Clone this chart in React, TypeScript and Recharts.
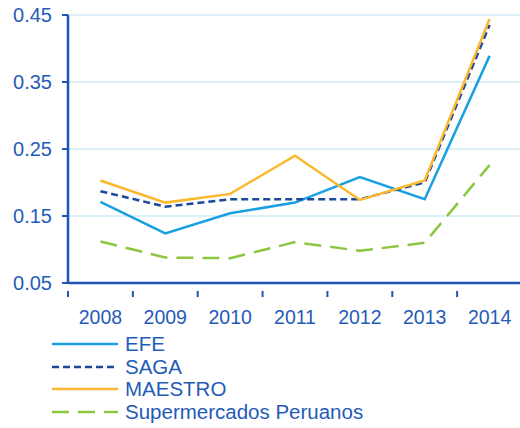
import React from "react";
import { CartesianGrid, Legend, Line, LineChart, XAxis, YAxis } from "recharts";

const years = ["2008", "2009", "2010", "2011", "2012", "2013", "2014"];
const efe = [0.171, 0.124, 0.154, 0.17, 0.208, 0.175, 0.389];
const saga = [0.187, 0.164, 0.175, 0.175, 0.175, 0.2, 0.435];
const maestro = [0.203, 0.17, 0.183, 0.24, 0.174, 0.203, 0.444];
const supermercados = [0.112, 0.088, 0.087, 0.111, 0.098, 0.11, 0.226];
const yTicks = [0.05, 0.15, 0.25, 0.35, 0.45];

const TEXT = "#1f5cb8";
const AXIS = "#1a55b0";
const GRID = "#d2ebf8";

const series = [
  { key: "efe", name: "EFE", color: "#1aa0e2", dash: undefined as string | undefined },
  { key: "saga", name: "SAGA", color: "#1b4a9c", dash: "7 4" },
  { key: "maestro", name: "MAESTRO", color: "#fcb72d", dash: undefined },
  { key: "sp", name: "Supermercados Peruanos", color: "#8cc63f", dash: "17 9" }
];

// x sits in the middle of each year's band so ticks can fall on band edges
const data = years.map((year, i) => ({
  x: i + 0.5,
  year,
  efe: efe[i],
  saga: saga[i],
  maestro: maestro[i],
  sp: supermercados[i]
}));

const xTicks = Array.from({ length: years.length * 2 + 1 }, (_, i) => i / 2);

function YearTick(props: any) {
  const { x, y, payload } = props;
  const v = payload.value as number;
  if (Number.isInteger(v)) {
    return <line x1={x} x2={x} y1={y} y2={y + 6} stroke={AXIS} strokeWidth={2} />;
  }
  return (
    <text x={x} y={y + 19} textAnchor="middle" dy="0.71em" fill={TEXT} fontSize={19.5}>
      {years[Math.floor(v)]}
    </text>
  );
}

function LegendList() {
  return (
    <div>
      {series.map((s) => (
        <div key={s.key} style={{ display: "flex", alignItems: "center", height: 22.5 }}>
          <svg width={66} height={6} style={{ marginRight: 7 }}>
            <line x1={0} x2={66} y1={3} y2={3} stroke={s.color} strokeWidth={2.5} strokeDasharray={s.dash} />
          </svg>
          <span style={{ color: TEXT, fontSize: 20.5, lineHeight: "22px" }}>{s.name}</span>
        </div>
      ))}
    </div>
  );
}

export default function App() {
  return (
    <div style={{ position: "absolute", left: 0, top: 0, fontFamily: "'Liberation Sans', Arial, sans-serif" }}>
      <LineChart width={520} height={428} data={data} margin={{ top: 15, right: -2, left: 0, bottom: 115 }}>
        <CartesianGrid vertical={false} stroke={GRID} strokeWidth={1.5} />
        <XAxis
          dataKey="x"
          type="number"
          domain={[0, years.length]}
          ticks={xTicks}
          interval={0}
          height={30}
          tickLine={false}
          axisLine={{ stroke: AXIS, strokeWidth: 2.5 }}
          tick={<YearTick />}
        />
        <YAxis
          type="number"
          domain={[0.05, 0.45]}
          ticks={yTicks}
          width={68}
          tickSize={6}
          tickMargin={10}
          tickLine={{ stroke: AXIS, strokeWidth: 2 }}
          axisLine={{ stroke: AXIS, strokeWidth: 2.5 }}
          tick={{ fill: TEXT, fontSize: 20 }}
          tickFormatter={(v: number) => v.toFixed(2)}
        />
        <Legend
          layout="vertical"
          align="center"
          verticalAlign="middle"
          wrapperStyle={{ top: 333, left: 52, width: 400 }}
          content={() => <LegendList />}
        />
        {series.map((s) => (
          <Line
            key={s.key}
            dataKey={s.key}
            name={s.name}
            stroke={s.color}
            strokeWidth={2.5}
            strokeDasharray={s.dash}
            dot={false}
            activeDot={false}
            isAnimationActive={false}
          />
        ))}
      </LineChart>
    </div>
  );
}
